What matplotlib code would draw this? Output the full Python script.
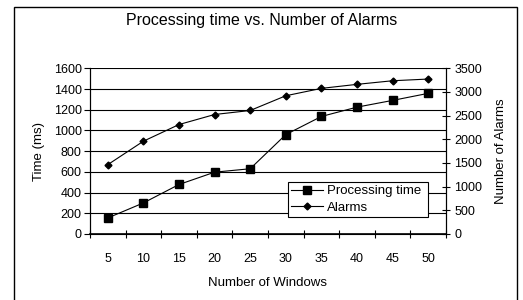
import matplotlib
matplotlib.use("Agg")
import matplotlib.pyplot as plt
from matplotlib.patches import Rectangle

plt.rcParams['font.family'] = ['Liberation Sans', 'DejaVu Sans']

windows = ["5", "10", "15", "20", "25", "30", "35", "40", "45", "50"]
proc_time = [155, 300, 478, 597, 630, 960, 1135, 1225, 1290, 1358]
alarms = [1465, 1960, 2312, 2524, 2609, 2920, 3076, 3161, 3237, 3273]
left_ticks = [0, 200, 400, 600, 800, 1000, 1200, 1400, 1600]
right_ticks = [0, 500, 1000, 1500, 2000, 2500, 3000, 3500]

W, H = 523, 300
fig = plt.figure(figsize=(W / 100, H / 100), dpi=100)
fig.patches.append(Rectangle((14 / W, -0.05), (517 - 14) / W, 1.05 - 7 / H,
                             transform=fig.transFigure, fill=False,
                             edgecolor='black', linewidth=1.0))

ax = fig.add_axes([90 / W, (H - 234) / H, (446 - 90) / W, (234 - 68.3) / H])
ax2 = ax.twinx()

x = list(range(len(windows)))
l1, = ax.plot(x, proc_time, color='black', lw=0.8, marker='s', markersize=5.5,
              label='Processing time')
l2, = ax2.plot(x, alarms, color='black', lw=0.8, marker='D', markersize=3.5,
               label='Alarms')

ax.set_xlim(-0.5, len(windows) - 0.5)
ax.set_ylim(0, 1600)
ax2.set_ylim(0, 3500)
ax.set_yticks(left_ticks)
ax2.set_yticks(right_ticks)
ax.set_xticks([i - 0.5 for i in range(len(windows) + 1)])
ax.set_xticklabels([])
ax.set_xticks(x, minor=True)
ax.set_xticklabels(windows, minor=True)
ax.tick_params(axis='x', which='minor', length=0, pad=14, labelsize=9)
ax.tick_params(axis='x', which='major', direction='inout', length=6, width=0.8)
ax.tick_params(axis='y', direction='out', length=4, width=0.8, labelsize=9, pad=2)
ax2.tick_params(axis='y', direction='inout', length=6, width=0.8, labelsize=9, pad=3)

for v in left_ticks[1:]:
    ax.axhline(v, color='black', lw=0.8, zorder=0)

for a in (ax, ax2):
    a.spines['top'].set_visible(False)
    for s in ('left', 'right', 'bottom'):
        a.spines[s].set_linewidth(0.8)
ax.spines['bottom'].set_linewidth(1.2)

ax.set_ylabel('Time (ms)', fontsize=9.5, labelpad=6)
ax2.set_ylabel('Number of Alarms', fontsize=9.5, labelpad=9)
ax.set_xlabel('Number of Windows', fontsize=9.5, labelpad=8)
fig.text(0.5, (H - 21) / H, 'Processing time vs. Number of Alarms',
         ha='center', va='center', fontsize=11.5)

leg = ax.legend(handles=[l1, l2], loc='lower left',
                bbox_to_anchor=((288 - 90) / (446 - 90), (234 - 217) / (234 - 68.3),
                                (428 - 288) / (446 - 90), (217 - 172) / (234 - 68.3)),
                mode='expand', fancybox=False, framealpha=1, edgecolor='black',
                fontsize=9.5, handlelength=2.4, borderaxespad=0, borderpad=0.25,
                labelspacing=0.35, handletextpad=0.3, handleheight=0.6)
leg.get_frame().set_linewidth(0.8)
ax.set_zorder(ax2.get_zorder() + 1)
ax.patch.set_visible(False)

fig.savefig('out.png', dpi=100)
